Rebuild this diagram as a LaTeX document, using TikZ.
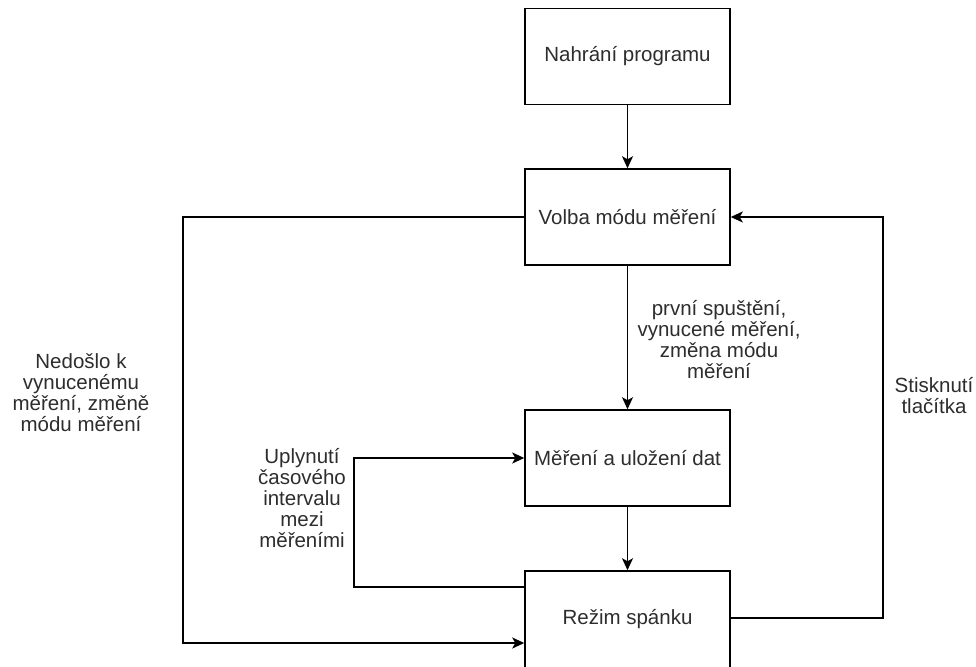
\documentclass[tikz,border=0pt]{standalone}
\usepackage{fontspec}
\setmainfont{Liberation Sans}
\usetikzlibrary{arrows.meta,calc}
\definecolor{txt}{RGB}{45,45,45}
\begin{document}
\begin{tikzpicture}[x=1pt,y=-1pt,
  stepbox/.style={draw=black,line width=1.5pt,minimum width=205pt,minimum height=96pt,inner sep=0pt,
    font=\fontsize{20.5}{21}\selectfont,text=txt},
  lbl/.style={align=center,inner sep=0pt,font=\fontsize{20.5}{21}\selectfont,text=txt},
  conn/.style={line width=1.5pt,-{Stealth[length=12pt,width=11pt,inset=3pt]}}]
\useasboundingbox (0,0) rectangle (976,666);
\node[stepbox] (nahr) at (627.5,56.5) {Nahrání programu};
\node[stepbox] (volba) at (627.5,217) {Volba módu měření};
\node[stepbox] (mer) at (627.5,458) {Měření a uložení dat};
\node[stepbox,minimum height=100pt] (rez) at (627.5,621) {};
\node[font=\fontsize{20.5}{21}\selectfont,text=txt,inner sep=0pt] (reztxt) at (627.5,619) {Režim spánku};
\coordinate (l1) at (183,217);
\coordinate (l2) at (183,643);
\coordinate (m1) at (354,587);
\coordinate (m2) at (354,458);
\coordinate (r1) at (883,618);
\coordinate (r2) at (883,217);
\draw[conn] (nahr) -- (volba);
\draw[conn] (volba) -- (mer);
\draw[conn] (mer) -- (rez);
\draw[conn] (volba.west) -- (l1) -- (l2) -- (rez.west |- l2);
\draw[conn] (rez.west |- m1) -- (m1) -- (m2) -- (mer.west);
\draw[conn] (rez.east |- r1) -- (r1) -- (r2) -- (volba.east);
\node[lbl] (t1) at (719,340) {první spuštění,\\vynucené měření,\\změna módu\\měření};
\node[lbl] (t2) at (81,393) {Nedošlo k\\vynucenému\\měření, změně\\módu měření};
\node[lbl] (t3) at (934,396) {Stisknutí\\tlačítka};
\node[lbl] (t4) at (302,498) {Uplynutí\\časového\\intervalu\\mezi\\měřeními};
\end{tikzpicture}
\end{document}
